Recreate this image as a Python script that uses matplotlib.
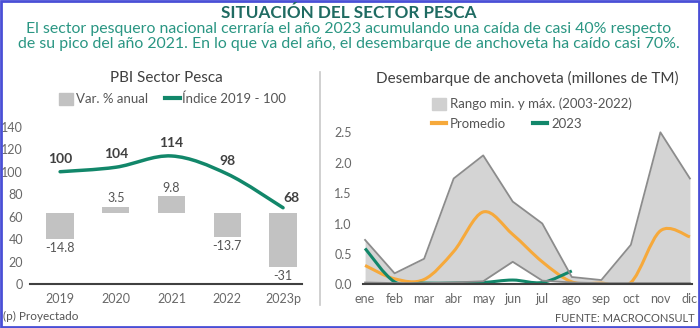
import matplotlib
matplotlib.use("Agg")
import matplotlib.pyplot as plt
from matplotlib.path import Path
from matplotlib.patches import PathPatch, Patch, Rectangle
from matplotlib.lines import Line2D

plt.rcParams["font.family"] = ["Lato", "DejaVu Sans"]

# left panel data
years = ["2019", "2020", "2021", "2022", "2023p"]
var_anual = [-14.8, 3.5, 9.8, -13.7, -31]
var_labels = ["-14.8", "3.5", "9.8", "-13.7", "-31"]
indice = [100, 104, 114, 98, 68]

# right panel data (millones de TM)
meses = ["ene", "feb", "mar", "abr", "may", "jun", "jul", "ago", "sep", "oct", "nov", "dic"]
rango_max = [0.73, 0.18, 0.42, 1.74, 2.12, 1.36, 1.0, 0.12, 0.07, 0.65, 2.5, 1.74]
rango_min = [0.03, 0.02, 0.02, 0.03, 0.05, 0.37, 0.06, 0.03, 0.02, 0.02, 0.02, 0.02]
promedio = [0.31, 0.09, 0.08, 0.54, 1.19, 0.82, 0.37, 0.04, 0.02, 0.03, 0.88, 0.78]
y2023 = [0.59, 0.04, 0.02, 0.02, 0.03, 0.07, 0.03, 0.22]

GREEN = "#12876a"
ORANGE = "#f6a93b"
GRAY_TXT = "#686868"
W, H = 700, 328


def smooth_path(x, y):
    # catmull-rom style bezier, like excel smoothed lines
    verts = [(x[0], y[0])]
    codes = [Path.MOVETO]
    n = len(x)
    for i in range(n - 1):
        x0, y0 = (x[i - 1], y[i - 1]) if i > 0 else (x[i], y[i])
        x3, y3 = (x[i + 2], y[i + 2]) if i + 2 < n else (x[i + 1], y[i + 1])
        c1 = (x[i] + (x[i + 1] - x0) / 6, y[i] + (y[i + 1] - y0) / 6)
        c2 = (x[i + 1] - (x3 - x[i]) / 6, y[i + 1] - (y3 - y[i]) / 6)
        verts += [c1, c2, (x[i + 1], y[i + 1])]
        codes += [Path.CURVE4] * 3
    return Path(verts, codes)


def fx(px):
    return px / W


def fy(py):
    return 1 - py / H


fig = plt.figure(figsize=(7, 3.28), dpi=100)

# header
fig.text(fx(349), fy(12.5), "SITUACIÓN DEL SECTOR PESCA", ha="center", va="center",
         fontsize=12.3, fontweight="bold", color="#1f6b62")
fig.text(fx(349), fy(36.5), "El sector pesquero nacional cerraría el año 2023 acumulando una caída de casi 40% respecto\n"
         "de su pico del año 2021. En lo que va del año, el desembarque de anchoveta ha caído casi 70%.",
         ha="center", va="center", fontsize=11.4, color="#2a9683", linespacing=1.05)

# ---- left panel ----
ax = fig.add_axes([fx(30), fy(284.3), fx(272), 157.6 / H])
xs = list(range(len(years)))
ax.set_xlim(-0.54, 4.34)
ax.set_ylim(0, 140)
ax.set_yticks(range(0, 141, 20))
ax.set_xticks(xs)
ax.set_xticklabels(years)
for s in ["top", "right", "left"]:
    ax.spines[s].set_visible(False)
ax.spines["bottom"].set_color("#404040")
ax.spines["bottom"].set_linewidth(1.5)
ax.tick_params(length=0, labelsize=9, colors=GRAY_TXT, pad=5)
ax.tick_params(axis="x", pad=6)

ax2 = ax.twinx()
base, k = 63, 1.55
ax2.set_ylim(-base / k, (140 - base) / k)
ax2.set_axis_off()
ax2.bar(xs, var_anual, width=0.49, color="#c2c2c2")
for x, v, lab in zip(xs, var_anual, var_labels):
    ax2.annotate(lab, (x, v), xytext=(0, 2 if v > 0 else -2), textcoords="offset points",
                 ha="center", va="bottom" if v > 0 else "top", fontsize=9, color="#555555")

ax3 = ax.twinx()
ax3.set_ylim(0, 140)
ax3.set_xlim(-0.54, 4.34)
ax3.set_axis_off()
ax3.add_patch(PathPatch(smooth_path(xs, indice), fill=False, edgecolor=GREEN, lw=2.5, capstyle="round"))
for i, (x, v) in enumerate(zip(xs, indice)):
    dx = 6 if i == len(xs) - 1 else 0
    dy = 3 if i == len(xs) - 1 else 5
    ax3.annotate(str(v), (x, v), xytext=(dx, dy), textcoords="offset points",
                 ha="center", va="bottom", fontsize=10, fontweight="bold", color="#404040")

fig.text(fx(166), fy(78), "PBI Sector Pesca", ha="center", va="center", fontsize=11, color="#404040")
leg1 = fig.legend(handles=[Patch(color="#c2c2c2", label="Var. % anual"),
                           Line2D([], [], color=GREEN, lw=3, label="Índice 2019 - 100")],
                  loc="center left", bbox_to_anchor=(fx(52), fy(99)), ncol=2, frameon=False,
                  fontsize=9.5, handlelength=1.1, handleheight=1.0, handletextpad=0.2,
                  columnspacing=1.3, borderpad=0)
for t in leg1.get_texts():
    t.set_color("#555555")

# separator
fig.add_artist(Line2D([fx(320), fx(320)], [fy(72), fy(305)], color="#c8c8c8", lw=1.2))

# ---- right panel ----
bx = fig.add_axes([fx(363), fy(284.3), fx(329), 2.6 * 60.8 / H])
ms = list(range(len(meses)))
bx.set_xlim(-0.07, 11.07)
bx.set_ylim(0, 2.6)
bx.set_yticks([0, 0.5, 1.0, 1.5, 2.0, 2.5])
bx.set_yticklabels(["0.0", "0.5", "1.0", "1.5", "2.0", "2.5"])
bx.set_xticks(ms)
bx.set_xticklabels(meses)
for s in ["top", "right", "left"]:
    bx.spines[s].set_visible(False)
bx.spines["bottom"].set_color("#404040")
bx.spines["bottom"].set_linewidth(1.5)
bx.spines["bottom"].set_zorder(5)
bx.tick_params(length=0, labelsize=9, colors=GRAY_TXT, pad=8)
bx.tick_params(axis="x", pad=6)

bx.fill_between(ms, rango_min, rango_max, color="#d4d4d4", lw=0)
bx.plot(ms, rango_max, color="#8c8c8c", lw=1.3)
bx.plot(ms, rango_min, color="#8c8c8c", lw=1.3)
bx.add_patch(PathPatch(smooth_path(ms, promedio), fill=False, edgecolor=ORANGE, lw=2.2))
bx.add_patch(PathPatch(smooth_path(ms[:len(y2023)], y2023), fill=False, edgecolor=GREEN, lw=2.2))

fig.text(fx(527), fy(78), "Desembarque de anchoveta (millones de TM)", ha="center", va="center",
         fontsize=11, color="#404040")
leg2 = fig.legend(handles=[Patch(color="#d0d0d0", label="Rango min. y máx. (2003-2022)")],
                  loc="center left", bbox_to_anchor=(fx(425), fy(104)), frameon=False,
                  fontsize=9.5, handlelength=1.1, handleheight=1.0, handletextpad=0.3, borderpad=0)
leg3 = fig.legend(handles=[Line2D([], [], color=ORANGE, lw=3, label="Promedio"),
                           Line2D([], [], color=GREEN, lw=3, label="2023")],
                  loc="center left", bbox_to_anchor=(fx(425), fy(124)), ncol=2, frameon=False,
                  fontsize=9.5, handlelength=1.1, handletextpad=0.3, columnspacing=2.0, borderpad=0)
for lg in (leg2, leg3):
    for t in lg.get_texts():
        t.set_color("#555555")

# footnotes
fig.text(fx(3), fy(316), "(p) Proyectado", ha="left", va="center", fontsize=8.5, color="#555555")
fig.text(fx(695), fy(319), "FUENTE: MACROCONSULT", ha="right", va="center", fontsize=8, color="#555555")

# frame
fig.add_artist(Rectangle((0.001, 0.002), 0.997, 0.995, transform=fig.transFigure, fill=False,
                         edgecolor="#4a4fd6", lw=2))

fig.savefig("out.png", dpi=100)
